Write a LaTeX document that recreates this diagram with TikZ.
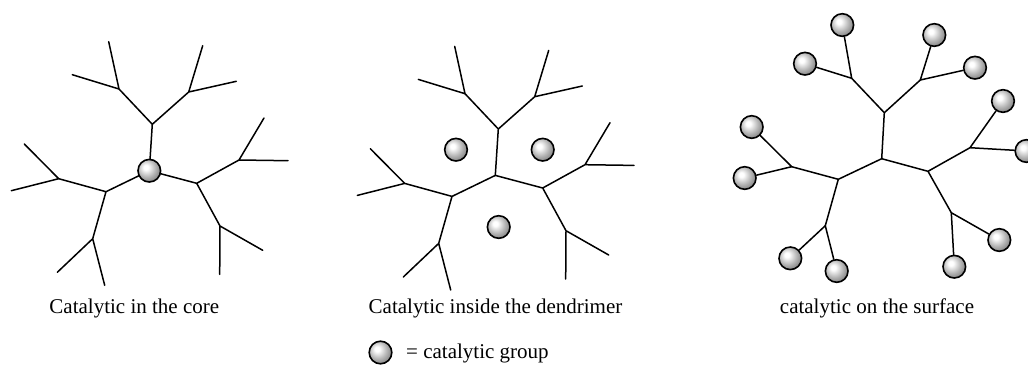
\documentclass[tikz,border=0pt]{standalone}
\usepackage{fontspec}
\setmainfont{Liberation Serif}
\pgfdeclareradialshading{catball}{\pgfpoint{-8bp}{8bp}}{%
  color(0bp)=(white); color(5bp)=(white); color(20bp)=(black!30);
  color(34bp)=(black!55); color(46bp)=(black!72); color(70bp)=(black!85)}
\tikzset{
  bond/.style={line width=1.5pt, line cap=round},
  catgroup/.style={circle, draw=black, line width=1.6pt, shading=catball, minimum size=22.6pt, inner sep=0pt},
  caption/.style={font=\fontsize{21pt}{24pt}\selectfont, anchor=base, inner sep=0pt}
}
\begin{document}
\begin{tikzpicture}[x=1pt,y=-1pt]
\useasboundingbox (0,0) rectangle (1028,365);

% ---------- Dendrimer 1: catalytic in the core ----------
\coordinate (a-c) at (149.3,170.7);
\coordinate (a-T) at (152.3,124.3);
\coordinate (a-TL) at (119,89);   \coordinate (a-TR) at (188.7,92);
\coordinate (a-TL1) at (108.7,41.7); \coordinate (a-TL2) at (72.3,74.7);
\coordinate (a-TR1) at (202.7,45.7); \coordinate (a-TR2) at (236.3,81.3);
\coordinate (a-L) at (106,191.7);
\coordinate (a-LU) at (58.7,178.7); \coordinate (a-LD) at (92.7,238.7);
\coordinate (a-LU1) at (24.3,144);  \coordinate (a-LU2) at (11.3,190.7);
\coordinate (a-LD1) at (57.3,272.3); \coordinate (a-LD2) at (104.7,285.3);
\coordinate (a-R) at (196.7,183.3);
\coordinate (a-RU) at (239,160);   \coordinate (a-RD) at (220,226);
\coordinate (a-RU1) at (264,118);  \coordinate (a-RU2) at (288,160.7);
\coordinate (a-RD1) at (219.7,274.3); \coordinate (a-RD2) at (262.7,250.3);
\draw[bond] (a-c) -- (a-T) (a-T) -- (a-TL) (a-T) -- (a-TR)
  (a-TL) -- (a-TL1) (a-TL) -- (a-TL2) (a-TR) -- (a-TR1) (a-TR) -- (a-TR2)
  (a-c) -- (a-L) (a-L) -- (a-LU) (a-L) -- (a-LD)
  (a-LU) -- (a-LU1) (a-LU) -- (a-LU2) (a-LD) -- (a-LD1) (a-LD) -- (a-LD2)
  (a-c) -- (a-R) (a-R) -- (a-RU) (a-R) -- (a-RD)
  (a-RU) -- (a-RU1) (a-RU) -- (a-RU2) (a-RD) -- (a-RD1) (a-RD) -- (a-RD2);
\node[catgroup] (a-ball) at (a-c) {};
\node[caption] (cap1) at (134.3,313.5) {Catalytic in the core};

% ---------- Dendrimer 2: catalytic inside ----------
\begin{scope}[shift={(346,4.7)}]
\coordinate (b-c) at (149.3,170.7);
\coordinate (b-T) at (152.3,124.3);
\coordinate (b-TL) at (119,89);   \coordinate (b-TR) at (188.7,92);
\coordinate (b-TL1) at (108.7,41.7); \coordinate (b-TL2) at (72.3,74.7);
\coordinate (b-TR1) at (202.7,45.7); \coordinate (b-TR2) at (236.3,81.3);
\coordinate (b-L) at (106,191.7);
\coordinate (b-LU) at (58.7,178.7); \coordinate (b-LD) at (92.7,238.7);
\coordinate (b-LU1) at (24.3,144);  \coordinate (b-LU2) at (11.3,190.7);
\coordinate (b-LD1) at (57.3,272.3); \coordinate (b-LD2) at (104.7,285.3);
\coordinate (b-R) at (196.7,183.3);
\coordinate (b-RU) at (239,160);   \coordinate (b-RD) at (220,226);
\coordinate (b-RU1) at (264,118);  \coordinate (b-RU2) at (288,160.7);
\coordinate (b-RD1) at (219.7,274.3); \coordinate (b-RD2) at (262.7,250.3);
\end{scope}
\draw[bond] (b-c) -- (b-T) (b-T) -- (b-TL) (b-T) -- (b-TR)
  (b-TL) -- (b-TL1) (b-TL) -- (b-TL2) (b-TR) -- (b-TR1) (b-TR) -- (b-TR2)
  (b-c) -- (b-L) (b-L) -- (b-LU) (b-L) -- (b-LD)
  (b-LU) -- (b-LU1) (b-LU) -- (b-LU2) (b-LD) -- (b-LD1) (b-LD) -- (b-LD2)
  (b-c) -- (b-R) (b-R) -- (b-RU) (b-R) -- (b-RD)
  (b-RU) -- (b-RU1) (b-RU) -- (b-RU2) (b-RD) -- (b-RD1) (b-RD) -- (b-RD2);
\node[catgroup] (b-ball1) at (456,149.7) {};
\node[catgroup] (b-ball2) at (542.7,149.7) {};
\node[catgroup] (b-ball3) at (498.7,227) {};
\node[caption] (cap2) at (495.5,313.5) {Catalytic inside the dendrimer};

% ---------- Dendrimer 3: catalytic on the surface ----------
\coordinate (c-c) at (881.7,158.7);
\coordinate (c-T) at (884.3,112.7);
\coordinate (c-TL) at (851.7,78.3); \coordinate (c-TR) at (920.3,80);
\coordinate (c-L) at (838.3,179.3);
\coordinate (c-LU) at (791.7,166.7); \coordinate (c-LD) at (825.3,225.7);
\coordinate (c-R) at (928,171.3);
\coordinate (c-RU) at (970,147.7); \coordinate (c-RD) at (951.3,212.7);
\draw[bond] (c-c) -- (c-T) (c-T) -- (c-TL) (c-T) -- (c-TR)
  (c-c) -- (c-L) (c-L) -- (c-LU) (c-L) -- (c-LD)
  (c-c) -- (c-R) (c-R) -- (c-RU) (c-R) -- (c-RD);
\node[catgroup] (c-TL1) at (842.3,25) {};
\node[catgroup] (c-TL2) at (805,63.7) {};
\node[catgroup] (c-TR1) at (934.3,35) {};
\node[catgroup] (c-TR2) at (975,67.7) {};
\node[catgroup] (c-LU1) at (751.7,127) {};
\node[catgroup] (c-LU2) at (744.7,178) {};
\node[catgroup] (c-LD1) at (790.3,258.3) {};
\node[catgroup] (c-LD2) at (836.7,271) {};
\node[catgroup] (c-RU1) at (1003,101) {};
\node[catgroup] (c-RU2) at (1026.5,151) {};
\node[catgroup] (c-RD1) at (954.3,266.7) {};
\node[catgroup] (c-RD2) at (999.3,240) {};
\draw[bond] (c-TL) -- (c-TL1) (c-TL) -- (c-TL2) (c-TR) -- (c-TR1) (c-TR) -- (c-TR2)
  (c-LU) -- (c-LU1) (c-LU) -- (c-LU2) (c-LD) -- (c-LD1) (c-LD) -- (c-LD2)
  (c-RU) -- (c-RU1) (c-RU) -- (c-RU2) (c-RD) -- (c-RD1) (c-RD) -- (c-RD2);
\node[caption] (cap3) at (877,313.5) {catalytic on the surface};

% ---------- Legend ----------
\node[catgroup] (legball) at (380.5,352.5) {};
\node[caption, anchor=base west] (legtext) at (406,358.5) {= catalytic group};
\end{tikzpicture}
\end{document}
